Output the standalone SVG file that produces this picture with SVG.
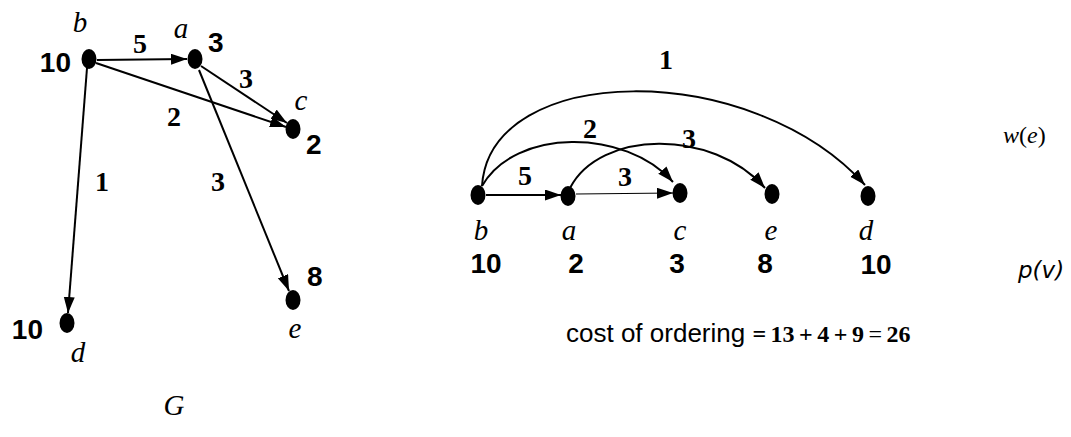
<svg xmlns="http://www.w3.org/2000/svg" width="1071" height="437" viewBox="0 0 1071 437">
<style>
.node{fill:#000}
.lbl{font-family:"Liberation Serif",serif;font-style:italic;font-size:29px;fill:#000;text-anchor:middle}
.num{font-family:"Liberation Sans",sans-serif;font-weight:bold;font-size:28px;fill:#000}
.wt{font-family:"Liberation Serif",serif;font-weight:bold;font-size:28px;fill:#000;text-anchor:middle}
.edge{fill:none;stroke:#000;stroke-width:2}
</style>
<defs>
<marker id="arr" markerUnits="userSpaceOnUse" markerWidth="17" markerHeight="12" refX="16" refY="5.5" orient="auto">
<path d="M0,0 L16,5.5 L0,11 z" fill="#000"/>
</marker>
</defs>
<g id="connectors">
<line class="edge" x1="97" y1="60" x2="187" y2="59" marker-end="url(#arr)"/>
<line class="edge" x1="96" y1="63" x2="286" y2="127" marker-end="url(#arr)"/>
<line class="edge" x1="201" y1="66" x2="287" y2="123" marker-end="url(#arr)"/>
<line class="edge" x1="199" y1="70" x2="289" y2="291" marker-end="url(#arr)"/>
<line class="edge" x1="87" y1="68" x2="68" y2="313" marker-end="url(#arr)"/>
<path class="edge" d="M482,186 C490,62 750,58 865,185" marker-end="url(#arr)"/>
<path class="edge" d="M482,186 C515,128 625,128 673,182" marker-end="url(#arr)"/>
<path class="edge" d="M570,188 C600,130 712,128 765,188" marker-end="url(#arr)"/>
<line class="edge" x1="486" y1="195" x2="561" y2="195" marker-end="url(#arr)"/>
<line x1="576" y1="194" x2="673" y2="193" stroke="#000" stroke-width="1.2" marker-end="url(#arr)"/>
</g>
<g id="edge-labels">
<text class="wt" x="140" y="53">5</text>
<text class="wt" x="246" y="88">3</text>
<text class="wt" x="174" y="126">2</text>
<text class="wt" x="102" y="191">1</text>
<text class="wt" x="218" y="191">3</text>
<text class="wt" x="666" y="69">1</text>
<text class="wt" x="590" y="138">2</text>
<text class="wt" x="689" y="148">3</text>
<text class="wt" x="525" y="185">5</text>
<text class="wt" x="625" y="186">3</text>
</g>
<g id="node-b">
<ellipse class="node" cx="89" cy="59" rx="7.5" ry="10"/>
<text class="lbl" x="80" y="32">b</text>
<text class="num" x="71" y="72" text-anchor="end">10</text>
</g>
<g id="node-a">
<ellipse class="node" cx="195" cy="59" rx="7.5" ry="10"/>
<text class="lbl" x="181" y="38">a</text>
<text class="num" x="208" y="52">3</text>
</g>
<g id="node-c">
<ellipse class="node" cx="293" cy="129" rx="7.5" ry="10"/>
<text class="lbl" x="301" y="110">c</text>
<text class="num" x="306" y="154">2</text>
</g>
<g id="node-d">
<ellipse class="node" cx="67" cy="323" rx="7.5" ry="10"/>
<text class="lbl" x="78" y="362">d</text>
<text class="num" x="43" y="339" text-anchor="end">10</text>
</g>
<g id="node-e">
<ellipse class="node" cx="293" cy="300" rx="7.5" ry="10"/>
<text class="lbl" x="295" y="338">e</text>
<text class="num" x="307" y="286">8</text>
</g>
<text class="lbl" x="174" y="415">G</text>
<g id="order-b">
<ellipse class="node" cx="478" cy="195" rx="7.5" ry="10"/>
<text class="lbl" x="481" y="240">b</text>
<text class="num" x="486" y="273" text-anchor="middle">10</text>
</g>
<g id="order-a">
<ellipse class="node" cx="568" cy="196" rx="7.5" ry="10"/>
<text class="lbl" x="569" y="240">a</text>
<text class="num" x="576" y="273" text-anchor="middle">2</text>
</g>
<g id="order-c">
<ellipse class="node" cx="680" cy="193" rx="7.5" ry="10"/>
<text class="lbl" x="680" y="240">c</text>
<text class="num" x="677" y="273" text-anchor="middle">3</text>
</g>
<g id="order-e">
<ellipse class="node" cx="772" cy="194" rx="7.5" ry="10"/>
<text class="lbl" x="771" y="240">e</text>
<text class="num" x="765" y="273" text-anchor="middle">8</text>
</g>
<g id="order-d">
<ellipse class="node" cx="868" cy="196" rx="7.5" ry="10"/>
<text class="lbl" x="866" y="240">d</text>
<text class="num" x="876" y="274" text-anchor="middle">10</text>
</g>
<text x="1003" y="143" font-family="Liberation Serif, serif" font-size="24"><tspan font-style="italic">w</tspan>(<tspan font-style="italic">e</tspan>)</text>
<text x="1018" y="278" font-family="DejaVu Sans, sans-serif" font-style="italic" font-size="23">p(v)</text>
<text x="566" y="342" font-family="Liberation Sans, sans-serif" font-size="26">cost of ordering <tspan font-family="Liberation Serif, serif" font-size="24" font-weight="bold" word-spacing="-1.5">= 13 + 4 + 9</tspan><tspan font-family="Liberation Serif, serif" font-size="24" word-spacing="-1.5"> = </tspan><tspan font-family="Liberation Serif, serif" font-size="24" font-weight="bold">26</tspan></text>
</svg>
